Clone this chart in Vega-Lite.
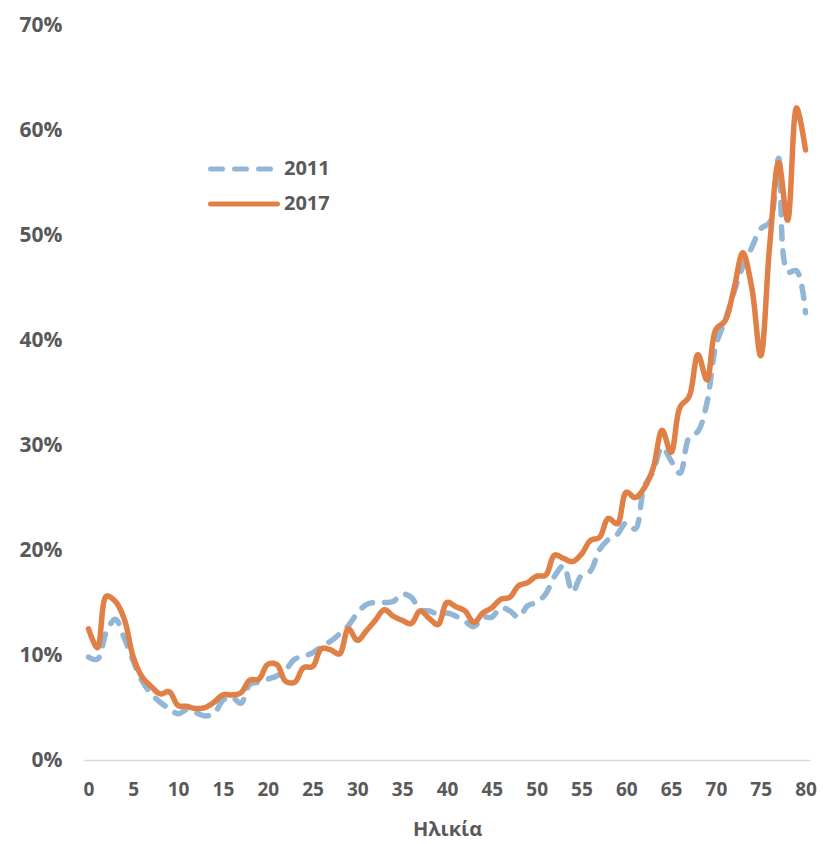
{
  "$schema": "https://vega.github.io/schema/vega-lite/v6.json",
  "width": 726,
  "height": 735,
  "autosize": {"type": "none"},
  "padding": {"left": 84, "top": 25, "right": 17, "bottom": 84},
  "background": "white",
  "config": {
    "view": {"stroke": null},
    "font": "Open Sans",
    "axis": {"labelFont": "Open Sans", "labelFontWeight": "bold", "labelColor": "#595959", "labelFontSize": 19, "titleFont": "Open Sans", "titleFontWeight": "bold", "titleColor": "#595959", "titleFontSize": 20, "ticks": false, "grid": false}
  },
  "data": {"values": [
    {"age":0,"year":"2011","v":9.8},{"age":1,"year":"2011","v":9.6},{"age":2,"year":"2011","v":12.2},{"age":3,"year":"2011","v":13.4},{"age":4,"year":"2011","v":11.6},
    {"age":5,"year":"2011","v":9.4},{"age":6,"year":"2011","v":7.5},{"age":7,"year":"2011","v":6.3},{"age":8,"year":"2011","v":5.5},{"age":9,"year":"2011","v":4.9},
    {"age":10,"year":"2011","v":4.4},{"age":11,"year":"2011","v":4.8},{"age":12,"year":"2011","v":4.5},{"age":13,"year":"2011","v":4.2},{"age":14,"year":"2011","v":4.4},
    {"age":15,"year":"2011","v":5.7},{"age":16,"year":"2011","v":6.0},{"age":17,"year":"2011","v":5.4},{"age":18,"year":"2011","v":7.2},{"age":19,"year":"2011","v":7.4},
    {"age":20,"year":"2011","v":7.7},{"age":21,"year":"2011","v":8.0},{"age":22,"year":"2011","v":8.6},{"age":23,"year":"2011","v":9.6},{"age":24,"year":"2011","v":9.9},
    {"age":25,"year":"2011","v":10.2},{"age":26,"year":"2011","v":10.8},{"age":27,"year":"2011","v":11.3},{"age":28,"year":"2011","v":12.0},{"age":29,"year":"2011","v":12.8},
    {"age":30,"year":"2011","v":14.0},{"age":31,"year":"2011","v":14.8},{"age":32,"year":"2011","v":15.0},{"age":33,"year":"2011","v":15.0},{"age":34,"year":"2011","v":15.1},
    {"age":35,"year":"2011","v":15.8},{"age":36,"year":"2011","v":15.5},{"age":37,"year":"2011","v":14.3},{"age":38,"year":"2011","v":14.2},{"age":39,"year":"2011","v":13.9},
    {"age":40,"year":"2011","v":14.0},{"age":41,"year":"2011","v":13.7},{"age":42,"year":"2011","v":13.2},{"age":43,"year":"2011","v":12.7},{"age":44,"year":"2011","v":13.6},
    {"age":45,"year":"2011","v":13.6},{"age":46,"year":"2011","v":14.5},{"age":47,"year":"2011","v":14.2},{"age":48,"year":"2011","v":13.6},{"age":49,"year":"2011","v":14.7},
    {"age":50,"year":"2011","v":15.0},{"age":51,"year":"2011","v":15.8},{"age":52,"year":"2011","v":17.5},{"age":53,"year":"2011","v":18.5},{"age":54,"year":"2011","v":16.0},
    {"age":55,"year":"2011","v":17.6},{"age":56,"year":"2011","v":18.0},{"age":57,"year":"2011","v":20.0},{"age":58,"year":"2011","v":21.0},{"age":59,"year":"2011","v":21.5},
    {"age":60,"year":"2011","v":22.6},{"age":61,"year":"2011","v":22.0},{"age":62,"year":"2011","v":26.0},{"age":63,"year":"2011","v":27.5},{"age":64,"year":"2011","v":29.8},
    {"age":65,"year":"2011","v":28.5},{"age":66,"year":"2011","v":27.3},{"age":67,"year":"2011","v":30.7},{"age":68,"year":"2011","v":31.3},{"age":69,"year":"2011","v":34.0},
    {"age":70,"year":"2011","v":39.5},{"age":71,"year":"2011","v":41.8},{"age":72,"year":"2011","v":44.5},{"age":73,"year":"2011","v":47.0},{"age":74,"year":"2011","v":48.8},
    {"age":75,"year":"2011","v":50.6},{"age":76,"year":"2011","v":51.2},{"age":77,"year":"2011","v":57.3},{"age":78,"year":"2011","v":46.5},{"age":79,"year":"2011","v":46.6},
    {"age":80,"year":"2011","v":42.6},
    {"age":0,"year":"2017","v":12.5},{"age":1,"year":"2017","v":10.7},{"age":2,"year":"2017","v":15.6},{"age":3,"year":"2017","v":15.1},{"age":4,"year":"2017","v":13.4},
    {"age":5,"year":"2017","v":9.8},{"age":6,"year":"2017","v":7.9},{"age":7,"year":"2017","v":7.0},{"age":8,"year":"2017","v":6.3},{"age":9,"year":"2017","v":6.5},
    {"age":10,"year":"2017","v":5.2},{"age":11,"year":"2017","v":5.1},{"age":12,"year":"2017","v":4.9},{"age":13,"year":"2017","v":5.0},{"age":14,"year":"2017","v":5.5},
    {"age":15,"year":"2017","v":6.2},{"age":16,"year":"2017","v":6.2},{"age":17,"year":"2017","v":6.4},{"age":18,"year":"2017","v":7.6},{"age":19,"year":"2017","v":7.7},
    {"age":20,"year":"2017","v":9.1},{"age":21,"year":"2017","v":9.1},{"age":22,"year":"2017","v":7.5},{"age":23,"year":"2017","v":7.4},{"age":24,"year":"2017","v":8.8},
    {"age":25,"year":"2017","v":8.9},{"age":26,"year":"2017","v":10.6},{"age":27,"year":"2017","v":10.5},{"age":28,"year":"2017","v":10.1},{"age":29,"year":"2017","v":12.5},
    {"age":30,"year":"2017","v":11.4},{"age":31,"year":"2017","v":12.3},{"age":32,"year":"2017","v":13.3},{"age":33,"year":"2017","v":14.3},{"age":34,"year":"2017","v":13.7},
    {"age":35,"year":"2017","v":13.3},{"age":36,"year":"2017","v":13.0},{"age":37,"year":"2017","v":14.2},{"age":38,"year":"2017","v":13.5},{"age":39,"year":"2017","v":12.9},
    {"age":40,"year":"2017","v":15.0},{"age":41,"year":"2017","v":14.6},{"age":42,"year":"2017","v":14.2},{"age":43,"year":"2017","v":13.1},{"age":44,"year":"2017","v":14.0},
    {"age":45,"year":"2017","v":14.5},{"age":46,"year":"2017","v":15.3},{"age":47,"year":"2017","v":15.5},{"age":48,"year":"2017","v":16.6},{"age":49,"year":"2017","v":16.9},
    {"age":50,"year":"2017","v":17.5},{"age":51,"year":"2017","v":17.6},{"age":52,"year":"2017","v":19.5},{"age":53,"year":"2017","v":19.2},{"age":54,"year":"2017","v":18.9},
    {"age":55,"year":"2017","v":19.6},{"age":56,"year":"2017","v":20.9},{"age":57,"year":"2017","v":21.2},{"age":58,"year":"2017","v":23.0},{"age":59,"year":"2017","v":22.5},
    {"age":60,"year":"2017","v":25.5},{"age":61,"year":"2017","v":25.0},{"age":62,"year":"2017","v":25.9},{"age":63,"year":"2017","v":27.8},{"age":64,"year":"2017","v":31.4},
    {"age":65,"year":"2017","v":29.3},{"age":66,"year":"2017","v":33.6},{"age":67,"year":"2017","v":34.6},{"age":68,"year":"2017","v":38.6},{"age":69,"year":"2017","v":36.2},
    {"age":70,"year":"2017","v":41.0},{"age":71,"year":"2017","v":41.8},{"age":72,"year":"2017","v":44.8},{"age":73,"year":"2017","v":48.3},{"age":74,"year":"2017","v":45.0},
    {"age":75,"year":"2017","v":38.5},{"age":76,"year":"2017","v":49.0},{"age":77,"year":"2017","v":56.9},{"age":78,"year":"2017","v":51.4},{"age":79,"year":"2017","v":62.1},
    {"age":80,"year":"2017","v":58.1}
  ]},
  "mark": {"type": "line", "interpolate": "catmull-rom", "strokeWidth": 5.5, "strokeCap": "round", "strokeJoin": "round"},
  "encoding": {
    "x": {"field": "age", "type": "quantitative", "title": "Ηλικία",
      "scale": {"domain": [-0.5, 80.5], "nice": false, "zero": false},
      "axis": {"values": [0,5,10,15,20,25,30,35,40,45,50,55,60,65,70,75,80], "labelAngle": 0, "domain": true, "domainColor": "#D9D9D9", "domainWidth": 1.5, "labelPadding": 20, "titlePadding": 20, "labelFlush": false}},
    "y": {"field": "v", "type": "quantitative", "title": null,
      "scale": {"domain": [0, 70], "nice": false},
      "axis": {"values": [0,10,20,30,40,50,60,70], "domain": false, "labelPadding": 22, "labelFontSize": 21, "labelExpr": "datum.value + '%'"}},
    "color": {"field": "year", "type": "nominal",
      "scale": {"domain": ["2011", "2017"], "range": ["#92B6D6", "#E08046"]},
      "legend": {"orient": "none", "legendX": 124, "legendY": 134, "title": null, "symbolType": "stroke", "symbolSize": 4489, "symbolStrokeWidth": 5, "labelFont": "Open Sans", "labelFontWeight": "bold", "labelFontSize": 20, "labelColor": "#595959", "labelOffset": 4, "clipHeight": 20, "rowPadding": 15,
        "encode": {"symbols": {"update": {"strokeCap": {"value": "round"}}}}}},
    "strokeDash": {"field": "year", "type": "nominal",
      "scale": {"domain": ["2011", "2017"], "range": [[12, 12], [1, 0]]},
      "legend": {"orient": "none", "legendX": 124, "legendY": 134, "title": null, "symbolType": "stroke", "symbolSize": 4489, "symbolStrokeWidth": 5, "labelFont": "Open Sans", "labelFontWeight": "bold", "labelFontSize": 20, "labelColor": "#595959", "labelOffset": 4, "clipHeight": 20, "rowPadding": 15,
        "encode": {"symbols": {"update": {"strokeCap": {"value": "round"}}}}}}
  }
}
